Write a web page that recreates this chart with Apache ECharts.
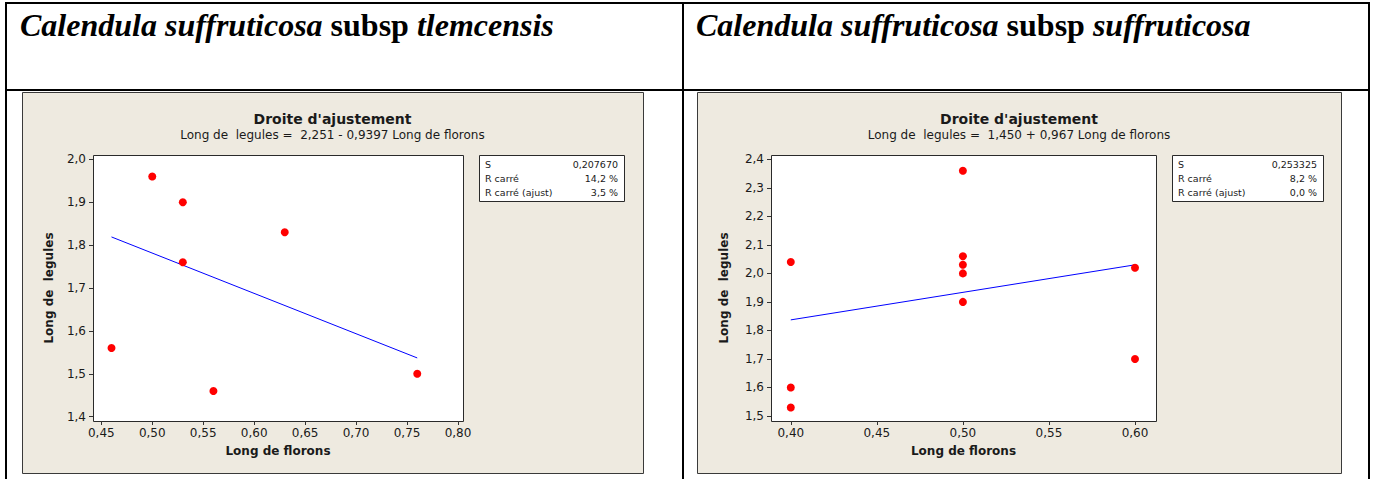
<!DOCTYPE html>
<html>
<head>
<meta charset="utf-8">
<script src="https://cdn.jsdelivr.net/npm/echarts@6/dist/echarts.min.js"></script>
<style>
  html, body { margin: 0; padding: 0; background: #ffffff; }
  #chart { width: 1376px; height: 479px; }
</style>
</head>
<body>
<div id="chart"></div>
<script>
// ---- Calendula suffruticosa subsp tlemcensis ----
const floronsTlem = [0.46, 0.50, 0.53, 0.53, 0.56, 0.63, 0.76];
const legulesTlem = [1.56, 1.96, 1.90, 1.76, 1.46, 1.83, 1.50];
const fitTlemX = [0.46, 0.76];
const fitTlemY = [1.819, 1.537];
const statsTlem = ['0,207670', '14,2 %', '3,5 %'];
const equationTlem = 'Long de  legules =  2,251 - 0,9397 Long de florons';
const xTicksTlem = [0.45, 0.50, 0.55, 0.60, 0.65, 0.70, 0.75, 0.80];
const xLabelsTlem = ['0,45', '0,50', '0,55', '0,60', '0,65', '0,70', '0,75', '0,80'];
const yTicksTlem = [1.4, 1.5, 1.6, 1.7, 1.8, 1.9, 2.0];
const yLabelsTlem = ['1,4', '1,5', '1,6', '1,7', '1,8', '1,9', '2,0'];

// ---- Calendula suffruticosa subsp suffruticosa ----
const floronsSuff = [0.40, 0.40, 0.40, 0.50, 0.50, 0.50, 0.50, 0.50, 0.60, 0.60];
const legulesSuff = [2.04, 1.60, 1.53, 2.36, 2.06, 2.03, 2.00, 1.90, 2.02, 1.70];
const fitSuffX = [0.40, 0.60];
const fitSuffY = [1.837, 2.030];
const statsSuff = ['0,253325', '8,2 %', '0,0 %'];
const equationSuff = 'Long de  legules =  1,450 + 0,967 Long de florons';
const xTicksSuff = [0.40, 0.45, 0.50, 0.55, 0.60];
const xLabelsSuff = ['0,40', '0,45', '0,50', '0,55', '0,60'];
const yTicksSuff = [1.5, 1.6, 1.7, 1.8, 1.9, 2.0, 2.1, 2.2, 2.3, 2.4];
const yLabelsSuff = ['1,5', '1,6', '1,7', '1,8', '1,9', '2,0', '2,1', '2,2', '2,3', '2,4'];

// ---- shared texts ----
const statNames = ['S', 'R carré', 'R carré (ajust)'];
const plotTitle = "Droite d'ajustement";
const xAxisName = 'Long de florons';
const yAxisName = 'Long de  legules';
const headerTlem = ['Calendula suffruticosa', 'subsp', 'tlemcensis'];
const headerSuff = ['Calendula suffruticosa', 'subsp', 'suffruticosa'];

const PANEL_BG = 'rgb(238,234,224)';
const INK = '#1a1a1a';
const SANS = '"DejaVu Sans", Verdana, sans-serif';
const SERIF = '"Liberation Serif", "Times New Roman", serif';

// layout of the two Minitab panels
const panels = [
  {
    header: headerTlem, headerX: 20,
    panel: [22, 92, 643, 473],
    grid: [93, 155, 463, 421],
    xRange: [0.44185, 0.80491], yRange: [1.38998, 2.01],
    box: [479, 155, 624, 201], yNameGap: 38,
    xs: floronsTlem, ys: legulesTlem, fx: fitTlemX, fy: fitTlemY,
    stats: statsTlem, eq: equationTlem,
    xTicks: xTicksTlem, xLabels: xLabelsTlem, yTicks: yTicksTlem, yLabels: yLabelsTlem
  },
  {
    header: headerSuff, headerX: 696,
    panel: [697, 92, 1341, 473],
    grid: [771, 155, 1156, 421],
    xRange: [0.38850, 0.61220], yRange: [1.48247, 2.41508],
    box: [1172, 155, 1323, 201], yNameGap: 41,
    xs: floronsSuff, ys: legulesSuff, fx: fitSuffX, fy: fitSuffY,
    stats: statsSuff, eq: equationSuff,
    xTicks: xTicksSuff, xLabels: xLabelsSuff, yTicks: yTicksSuff, yLabels: yLabelsSuff
  }
];

function labelFor(ticks, labels) {
  return function (v) {
    let best = 0;
    for (let k = 1; k < ticks.length; k++) {
      if (Math.abs(ticks[k] - v) < Math.abs(ticks[best] - v)) best = k;
    }
    return labels[best];
  };
}

const grids = [], xAxes = [], yAxes = [], series = [], graphics = [];

// table rules of the surrounding document
const rule = (x, y, w, h) => ({ type: 'rect', z: -3, shape: { x, y, width: w, height: h }, style: { fill: '#000' } });
graphics.push(rule(5, 2, 1365, 2), rule(5, 89, 1365, 2), rule(5, 2, 2, 477), rule(682, 2, 2, 477), rule(1368, 2, 2, 477));

panels.forEach((p, i) => {
  const [gl, gt, gr, gb] = p.grid;
  const [pl, pt, pr, pb] = p.panel;
  const cx = (pl + pr) / 2;

  // row header in the document table
  graphics.push({
    type: 'text', z: 5,
    style: {
      x: p.headerX, y: 24.5, textVerticalAlign: 'middle',
      text: '{i|' + p.header[0] + '} {b|' + p.header[1] + '} {i|' + p.header[2] + '}',
      font: 'bold 32px ' + SERIF, fill: '#000',
      rich: {
        i: { fontFamily: SERIF, fontSize: 32, fontWeight: 'bold', fontStyle: 'italic', fill: '#000' },
        b: { fontFamily: SERIF, fontSize: 32, fontWeight: 'bold', fill: '#000' }
      }
    }
  });

  // beige panel and white plot frame
  graphics.push({
    type: 'rect', z: -2,
    shape: { x: pl + 0.5, y: pt + 0.5, width: pr - pl, height: pb - pt },
    style: { fill: PANEL_BG, stroke: '#3a3a3a', lineWidth: 1 }
  });
  graphics.push({
    type: 'rect', z: -1,
    shape: { x: gl + 0.5, y: gt + 0.5, width: gr - gl, height: gb - gt },
    style: { fill: '#ffffff', stroke: '#2a2a2a', lineWidth: 1 }
  });

  // titles
  graphics.push({
    type: 'text', z: 5,
    style: { x: cx, y: 119, text: plotTitle, textAlign: 'center', textVerticalAlign: 'middle',
             font: 'bold 14px ' + SANS, fill: INK }
  });
  graphics.push({
    type: 'text', z: 5,
    style: { x: cx, y: 135, text: p.eq, textAlign: 'center', textVerticalAlign: 'middle',
             font: '12px ' + SANS, fill: INK }
  });

  // statistics box
  const [bl, bt, br, bb] = p.box;
  graphics.push({
    type: 'rect', z: 1,
    shape: { x: bl + 0.5, y: bt + 0.5, width: br - bl, height: bb - bt },
    style: { fill: '#ffffff', stroke: '#2a2a2a', lineWidth: 1 }
  });
  statNames.forEach((name, k) => {
    const y = 164.5 + k * 13.8;
    graphics.push({ type: 'text', z: 5, style: { x: bl + 6, y, text: name, textVerticalAlign: 'middle', font: '9.5px ' + SANS, fill: INK } });
    graphics.push({ type: 'text', z: 5, style: { x: br - 6, y, text: p.stats[k], textAlign: 'right', textVerticalAlign: 'middle', font: '9.5px ' + SANS, fill: INK } });
  });

  grids.push({ left: gl, top: gt, width: gr - gl, height: gb - gt, show: false, containLabel: false });

  const axisCommon = {
    axisLine: { show: false },
    splitLine: { show: false },
    axisTick: { show: true, inside: false, length: 4, lineStyle: { color: '#333', width: 1 } },
    nameLocation: 'middle',
    nameTextStyle: { fontFamily: SANS, fontWeight: 'bold', fontSize: 12, color: INK }
  };

  xAxes.push(Object.assign({}, axisCommon, {
    type: 'value', gridIndex: i, min: p.xRange[0], max: p.xRange[1],
    name: xAxisName, nameGap: 24,
    axisTick: Object.assign({}, axisCommon.axisTick, { customValues: p.xTicks }),
    axisLabel: { customValues: p.xTicks, formatter: labelFor(p.xTicks, p.xLabels), margin: 6,
                 fontFamily: SANS, fontSize: 12, color: INK }
  }));
  yAxes.push(Object.assign({}, axisCommon, {
    type: 'value', gridIndex: i, min: p.yRange[0], max: p.yRange[1],
    name: yAxisName, nameGap: p.yNameGap,
    axisTick: Object.assign({}, axisCommon.axisTick, { customValues: p.yTicks }),
    axisLabel: { customValues: p.yTicks, formatter: labelFor(p.yTicks, p.yLabels), margin: 7,
                 fontFamily: SANS, fontSize: 12, color: INK }
  }));

  series.push({
    type: 'line', xAxisIndex: i, yAxisIndex: i,
    data: p.fx.map((x, k) => [x, p.fy[k]]),
    symbol: 'none', lineStyle: { color: '#0000ff', width: 1 }, z: 3, silent: true
  });
  series.push({
    type: 'scatter', xAxisIndex: i, yAxisIndex: i,
    data: p.xs.map((x, k) => [x, p.ys[k]]),
    symbol: 'circle', symbolSize: 8, itemStyle: { color: '#ff0000', opacity: 1 }, z: 4, silent: true
  });
});

const chart = echarts.init(document.getElementById('chart'), null, { renderer: 'svg' });
chart.setOption({
  animation: false,
  backgroundColor: '#ffffff',
  grid: grids,
  xAxis: xAxes,
  yAxis: yAxes,
  series: series,
  graphic: { elements: graphics }
});
</script>
</body>
</html>
